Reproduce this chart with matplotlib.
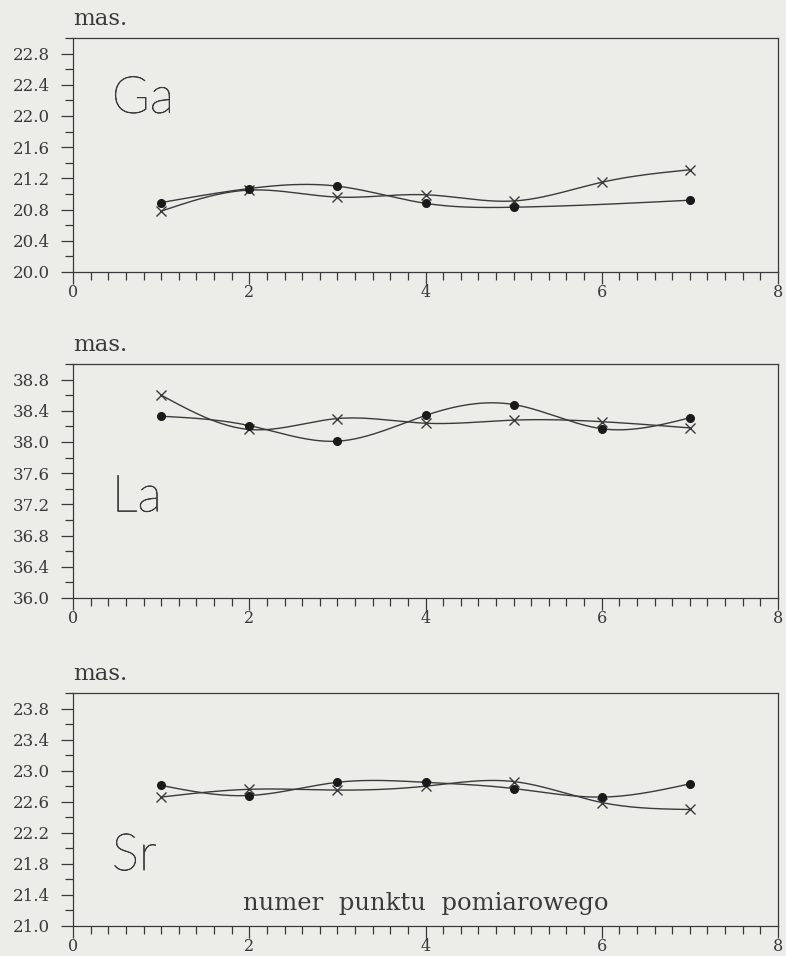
import numpy as np
import matplotlib
matplotlib.use("Agg")
import matplotlib.pyplot as plt
import matplotlib.patheffects as pe

# numer punktu pomiarowego
points = [1, 2, 3, 4, 5, 6, 7]

# Ga
ga_cross = [20.78, 21.05, 20.96, 20.99, 20.91, 21.15, 21.31]
ga_dot_points = [1, 2, 3, 4, 5, 7]
ga_dot = [20.89, 21.07, 21.10, 20.88, 20.83, 20.92]

# La
la_cross = [38.60, 38.16, 38.30, 38.24, 38.28, 38.26, 38.18]
la_dot = [38.33, 38.21, 38.01, 38.34, 38.48, 38.17, 38.31]

# Sr
sr_cross = [22.66, 22.76, 22.75, 22.80, 22.86, 22.59, 22.50]
sr_dot = [22.81, 22.68, 22.85, 22.85, 22.77, 22.66, 22.83]

paper = "#ecece8"
ink = "#3a3a3a"


def smooth(x, y, n=300):
    # natural cubic spline through the measured points (curve drawing only)
    x = np.asarray(x, float)
    y = np.asarray(y, float)
    m = len(x) - 1
    h = np.diff(x)
    A = np.zeros((m + 1, m + 1))
    r = np.zeros(m + 1)
    A[0, 0] = A[m, m] = 1
    for i in range(1, m):
        A[i, i - 1] = h[i - 1]
        A[i, i] = 2 * (h[i - 1] + h[i])
        A[i, i + 1] = h[i]
        r[i] = 3 * ((y[i + 1] - y[i]) / h[i] - (y[i] - y[i - 1]) / h[i - 1])
    c = np.linalg.solve(A, r)
    b = (y[1:] - y[:-1]) / h - h * (2 * c[:-1] + c[1:]) / 3
    d = (c[1:] - c[:-1]) / (3 * h)
    xs = np.linspace(x[0], x[-1], n)
    k = np.clip(np.searchsorted(x, xs, side="right") - 1, 0, m - 1)
    dx = xs - x[k]
    return xs, y[k] + b[k] * dx + c[k] * dx ** 2 + d[k] * dx ** 3


panels = [
    ("Ga", 20.0, points, ga_cross, ga_dot_points, ga_dot, 0.68),
    ("La", 36.0, points, la_cross, points, la_dot, 0.37),
    ("Sr", 21.0, points, sr_cross, points, sr_dot, 0.24),
]
boxes = [
    [0.0929, 0.7155, 0.8969, 0.2448],
    [0.0929, 0.3745, 0.8969, 0.2448],
    [0.0929, 0.0314, 0.8969, 0.2437],
]

fig = plt.figure(figsize=(7.86, 9.56), dpi=100, facecolor=paper)

for (name, lo, xc, yc, xd, yd, label_y), box in zip(panels, boxes):
    ax = fig.add_axes(box, facecolor=paper)

    sx, sy = smooth(xc, yc)
    ax.plot(sx, sy, color=ink, lw=1.0)
    ax.plot(xc, yc, ls="none", marker="x", ms=6.5, mew=1.0, color=ink)
    sx, sy = smooth(xd, yd)
    ax.plot(sx, sy, color=ink, lw=1.0)
    ax.plot(xd, yd, ls="none", marker="o", ms=5.5, color="#1a1a1a")

    ax.set_xlim(0, 8)
    ax.set_ylim(lo, lo + 3.0)
    ax.set_xticks([0, 2, 4, 6, 8])
    ax.set_xticks(np.arange(0, 8.01, 0.2), minor=True)
    yt = np.arange(lo, lo + 2.81, 0.4)
    ax.set_yticks(yt)
    ax.set_yticklabels(["%.1f" % v for v in yt])
    ax.set_yticks(np.arange(lo, lo + 3.01, 0.2), minor=True)

    ax.tick_params(which="major", length=8.5, width=0.9, color=ink,
                   labelsize=12, labelcolor=ink)
    ax.tick_params(which="minor", length=5.5, width=0.9, color=ink)
    ax.tick_params(axis="y", pad=8)
    ax.tick_params(axis="x", pad=0.5, labelsize=11.5)
    for lab in ax.get_xticklabels() + ax.get_yticklabels():
        lab.set_family("DejaVu Serif")
    for sp in ax.spines.values():
        sp.set_color(ink)
        sp.set_linewidth(0.9)

    ax.text(0.0, 1.035, "mas.", transform=ax.transAxes, family="DejaVu Serif",
            fontsize=16.5, color=ink, ha="left", va="bottom")
    ax.text(0.055, label_y, name, transform=ax.transAxes,
            family=["Lato", "DejaVu Sans"], fontweight="light", fontsize=37,
            color=ink, ha="left", va="baseline",
            path_effects=[pe.withStroke(linewidth=0.5, foreground=ink)])

ax.text(4, lo + 0.21, "numer  punktu  pomiarowego", family="DejaVu Serif",
        fontsize=17.5, color=ink, ha="center", va="baseline")

fig.savefig("out.png", dpi=100, facecolor=paper)
